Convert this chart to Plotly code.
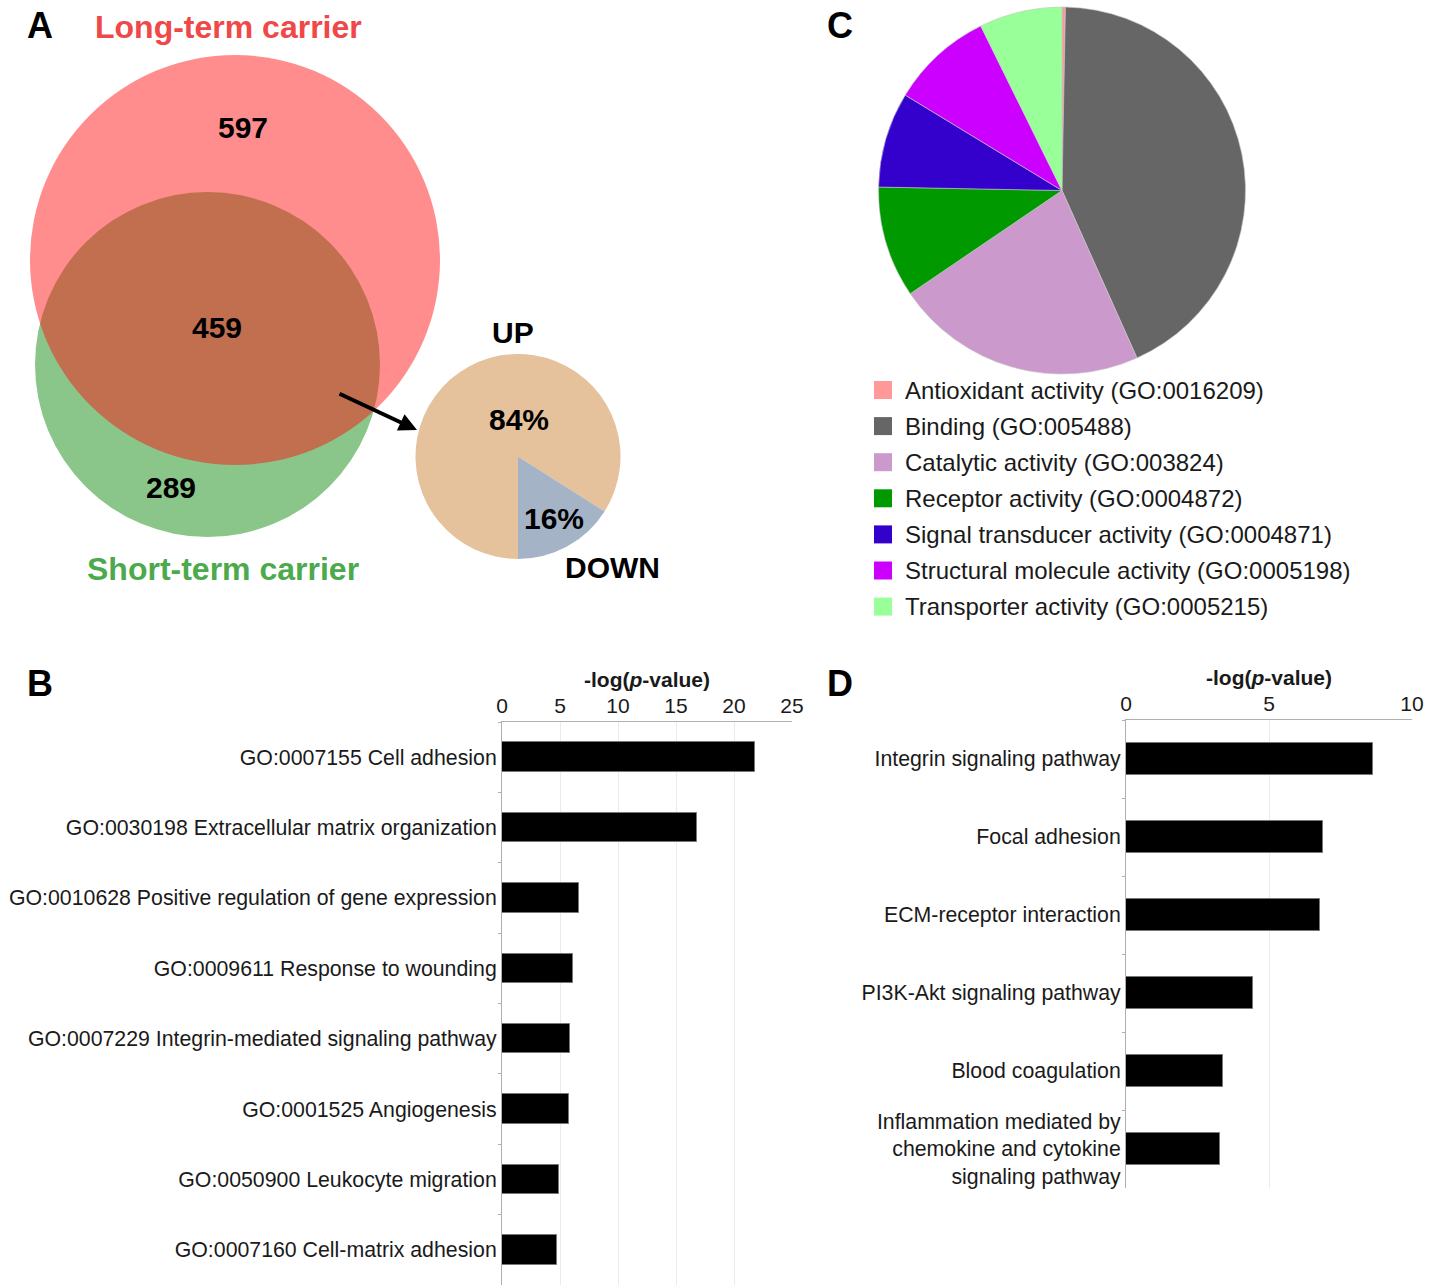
import plotly.graph_objects as go

W, H = 1438, 1285
FONT = "Liberation Sans, Arial, sans-serif"

# ---------------- data ----------------
venn_titles = ["Long-term carrier", "Short-term carrier"]
venn_counts = [597, 459, 289]          # long-only, shared, short-only

updown_labels = ["UP", "DOWN"]
updown_values = [84, 16]
updown_colors = ["#E5C19C", "#A4B4C6"]

mf_labels = [
    "Antioxidant activity (GO:0016209)",
    "Binding (GO:005488)",
    "Catalytic activity (GO:003824)",
    "Receptor activity (GO:0004872)",
    "Signal transducer activity (GO:0004871)",
    "Structural molecule activity (GO:0005198)",
    "Transporter activity (GO:0005215)",
]
mf_values = [0.3, 43.0, 22.2, 9.8, 8.4, 9.0, 7.3]
mf_colors = ["#FF9999", "#666666", "#CC99CC", "#009900", "#3300CC", "#CC00FF", "#99FF99"]

bp_terms = [
    "GO:0007155 Cell adhesion",
    "GO:0030198 Extracellular matrix organization",
    "GO:0010628 Positive regulation of gene expression",
    "GO:0009611 Response to wounding",
    "GO:0007229 Integrin-mediated signaling pathway",
    "GO:0001525 Angiogenesis",
    "GO:0050900 Leukocyte migration",
    "GO:0007160 Cell-matrix adhesion",
]
bp_values = [21.8, 16.8, 6.6, 6.1, 5.9, 5.8, 4.9, 4.7]
bp_ticks = [0, 5, 10, 15, 20, 25]

path_terms = [
    "Integrin signaling pathway",
    "Focal adhesion",
    "ECM-receptor interaction",
    "PI3K-Akt signaling pathway",
    "Blood coagulation",
    "Inflammation mediated by<br>chemokine and cytokine<br>signaling pathway",
]
path_values = [8.65, 6.9, 6.8, 4.45, 3.4, 3.3]
path_ticks = [0, 5, 10]


def px(x):
    return x / W


def py(y):
    return 1 - y / H


fig = go.Figure()

# ---------------- small pie (UP / DOWN) ----------------
fig.add_trace(go.Pie(
    values=updown_values, labels=updown_labels, sort=False,
    direction="counterclockwise", rotation=180,
    marker=dict(colors=updown_colors, line=dict(width=0)),
    textinfo="none", showlegend=False, hoverinfo="label+percent",
    domain=dict(x=[px(415), px(621)], y=[py(559), py(354)]),
))

# ---------------- big pie (panel C) ----------------
fig.add_trace(go.Pie(
    values=mf_values, labels=mf_labels, sort=False,
    direction="clockwise", rotation=0,
    marker=dict(colors=mf_colors, line=dict(width=0.6, color="#c8c8c8")),
    textinfo="none", showlegend=False, hoverinfo="label+percent",
    domain=dict(x=[px(878), px(1246)], y=[py(374), py(7)]),
))

# ---------------- bars (panel B) ----------------
fig.add_trace(go.Bar(
    x=bp_values, y=bp_terms, orientation="h", width=0.42,
    marker=dict(color="black", line=dict(color="#777777", width=1)),
    xaxis="x", yaxis="y", showlegend=False,
))

# ---------------- bars (panel D) ----------------
fig.add_trace(go.Bar(
    x=path_values, y=path_terms, orientation="h", width=0.41,
    marker=dict(color="black", line=dict(color="#777777", width=1)),
    xaxis="x2", yaxis="y2", showlegend=False,
))

xcommon = dict(
    side="top", showline=True, linecolor="#b0b0b0", linewidth=1,
    ticks="",
    showgrid=True, gridcolor="#ebebeb", gridwidth=1, zeroline=False,
    tickfont=dict(size=21, color="#1a1a1a", family=FONT),
    title=dict(text="<b>-log(<i>p</i>-value)</b>",
               font=dict(size=21, color="#1a1a1a", family=FONT), standoff=0),
    automargin=False, fixedrange=True,
)
ycommon = dict(
    autorange="reversed", showline=True, linecolor="#b0b0b0", linewidth=1,
    ticks="outside", ticklen=3, tickcolor="#b0b0b0", tickson="boundaries",
    showgrid=False, zeroline=False,
    tickfont=dict(size=21.3, color="#1a1a1a", family=FONT),
    automargin=False, fixedrange=True,
)

fig.update_layout(
    width=W, height=H,
    margin=dict(l=0, r=0, t=0, b=0),
    paper_bgcolor="white", plot_bgcolor="white",
    font=dict(family=FONT, color="#1a1a1a"),
    bargap=0, showlegend=False,
    xaxis=dict(domain=[px(502), px(792)], anchor="y", range=[0, 25], tickvals=bp_ticks, **xcommon),
    yaxis=dict(domain=[0, py(722)], anchor="x", **ycommon),
    xaxis2=dict(domain=[px(1126), px(1412)], anchor="y2", range=[0, 10], tickvals=path_ticks, **xcommon),
    yaxis2=dict(domain=[py(1188), py(720)], anchor="x2", **ycommon),
)

# ---------------- Venn diagram ----------------
shapes = [
    dict(type="circle", xref="paper", yref="paper",
         x0=px(35), x1=px(380), y0=py(537), y1=py(192),
         fillcolor="rgb(21,141,21)", opacity=0.5, line=dict(width=0), layer="below"),
    dict(type="circle", xref="paper", yref="paper",
         x0=px(30), x1=px(440), y0=py(465), y1=py(55),
         fillcolor="rgb(255,12,12)", opacity=0.47, line=dict(width=0), layer="below"),
]

ann = []


def txt(x, y, s, size, color="black", bold=True, xanchor="center"):
    ann.append(dict(
        x=px(x), y=py(y), xref="paper", yref="paper", showarrow=False,
        text=f"<b>{s}</b>" if bold else s, xanchor=xanchor, yanchor="middle",
        font=dict(size=size, color=color, family=FONT),
    ))


# ---------------- legend of panel C ----------------
for i, (lab, col) in enumerate(zip(mf_labels, mf_colors)):
    yc = 390 + 36.1 * i
    shapes.append(dict(
        type="rect", xref="paper", yref="paper",
        x0=px(874), x1=px(892), y0=py(yc + 9), y1=py(yc - 9),
        fillcolor=col, line=dict(width=0), layer="above",
    ))
    txt(903, yc, lab, 24, color="#1a1a1a", bold=False, xanchor="left")

fig.update_layout(shapes=shapes)

# panel letters
txt(40, 25, "A", 36)
txt(40, 683, "B", 36)
txt(840, 25, "C", 36)
txt(840, 683, "D", 36)

# Venn titles and counts
txt(228, 27, venn_titles[0], 32, color="#F04848")
txt(223, 569, venn_titles[1], 32, color="#4CAA4C")
txt(243, 128, venn_counts[0], 30)
txt(217, 327, venn_counts[1], 30)
txt(171, 487, venn_counts[2], 30)

# UP / DOWN pie labels
txt(513, 333, updown_labels[0], 30)
txt(612, 567, updown_labels[1], 30)
txt(519, 420, f"{updown_values[0]}%", 30)
txt(554, 518, f"{updown_values[1]}%", 30)

# arrow
ann.append(dict(
    x=px(417), y=py(430), xref="paper", yref="paper",
    ax=338 - 417, ay=393 - 430, axref="pixel", ayref="pixel",
    text="", showarrow=True, arrowhead=2, arrowsize=0.9, arrowwidth=4,
    arrowcolor="black", standoff=0,
))

fig.update_layout(annotations=ann)

fig.write_html(
    "out.html",
    config={"displayModeBar": False},
    post_script="document.body.style.margin='0px';document.body.style.overflow='hidden';",
)
